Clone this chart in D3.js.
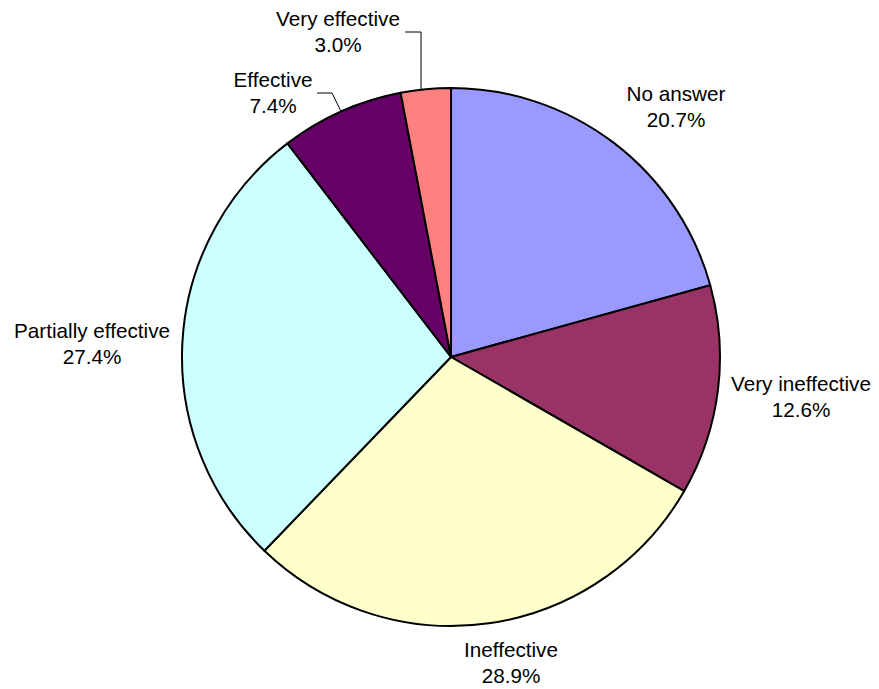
<!DOCTYPE html>
<html lang="en">
  <head>
    <meta charset="utf-8" />
    <script src="https://d3js.org/d3.v7.min.js"></script>
    <style>
      body {
        margin: 0;
        background: #fff;
      }
      #my_dataviz text {
        font-family: "Liberation Sans", Arial, sans-serif;
        font-size: 20.7px;
        fill: #000;
      }
    </style>
    <title>Effectiveness</title>
  </head>
  <body>
    <div id="my_dataviz"></div>

    <script>
      // data, clockwise from 12 o'clock
      var categories = [
        "No answer",
        "Very ineffective",
        "Ineffective",
        "Partially effective",
        "Effective",
        "Very effective",
      ];
      var percents = [20.7, 12.6, 28.9, 27.4, 7.4, 3.0];
      var colors = ["#9999ff", "#993366", "#ffffcc", "#ccffff", "#660066", "#ff8080"];

      // label anchors (text centre x, first baseline y) and optional leader elbows
      var labelLayout = [
        { x: 676, y: 101 },
        { x: 801, y: 391 },
        { x: 511, y: 657 },
        { x: 92, y: 338 },
        { x: 273, y: 87, leader: [[317, 93], [332, 93]] },
        { x: 338, y: 26, leader: [[405, 32], [421, 32]], drop: true },
      ];

      var width = 879,
        height = 689;
      var cx = 451,
        cy = 357,
        radius = 269;

      var svg = d3
        .select("#my_dataviz")
        .append("svg")
        .attr("width", width)
        .attr("height", height);

      var data = categories.map(function (c, i) {
        return { name: c, value: percents[i], color: colors[i], layout: labelLayout[i] };
      });

      var pie = d3
        .pie()
        .sort(null)
        .value(function (d) {
          return d.value;
        });

      var arc = d3.arc().innerRadius(0).outerRadius(radius);

      var g = svg.append("g").attr("transform", "translate(" + cx + "," + cy + ")");

      var arcs = pie(data);

      g.selectAll("path")
        .data(arcs)
        .enter()
        .append("path")
        .attr("d", arc)
        .attr("fill", function (d) {
          return d.data.color;
        })
        .attr("stroke", "#000")
        .attr("stroke-width", 2)
        .attr("stroke-linejoin", "round");

      // leader lines: elbow points, then to the pie edge
      arcs.forEach(function (d) {
        var L = d.data.layout;
        if (!L.leader) return;
        var ex, ey;
        var last = L.leader[L.leader.length - 1];
        if (L.drop) {
          // straight down onto the rim
          ex = last[0];
          ey = cy - Math.sqrt(radius * radius - (ex - cx) * (ex - cx));
        } else {
          var mid = (d.startAngle + d.endAngle) / 2;
          ex = cx + radius * Math.sin(mid);
          ey = cy - radius * Math.cos(mid);
        }
        var pts = L.leader.concat([[ex, ey]]);
        svg
          .append("path")
          .attr("d", d3.line()(pts))
          .attr("fill", "none")
          .attr("stroke", "#000")
          .attr("stroke-width", 1);
      });

      // labels
      arcs.forEach(function (d) {
        var L = d.data.layout;
        var t = svg
          .append("text")
          .attr("text-anchor", "middle")
          .attr("x", L.x)
          .attr("y", L.y);
        t.append("tspan").attr("x", L.x).text(d.data.name);
        t.append("tspan")
          .attr("x", L.x)
          .attr("dy", 25.5)
          .text(d.data.value.toFixed(1) + "%");
      });
    </script>
  </body>
</html>
